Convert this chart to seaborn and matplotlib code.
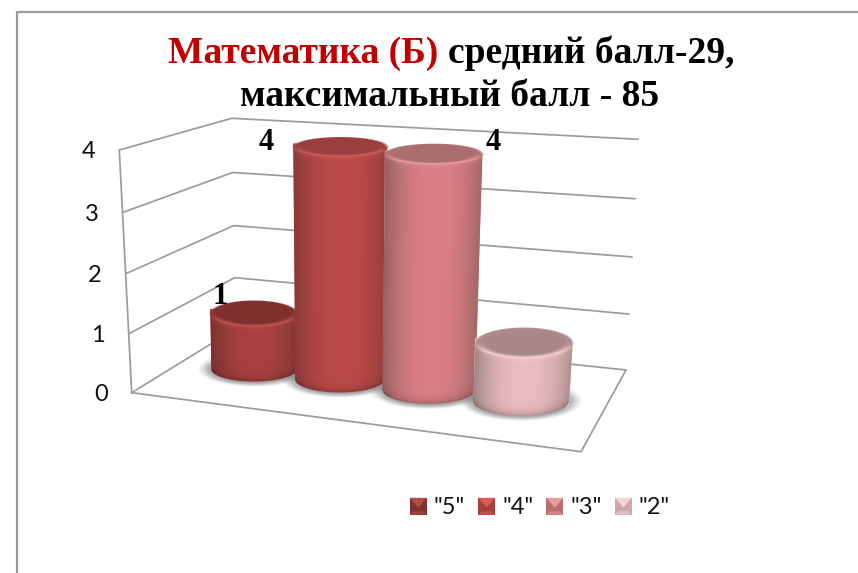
import numpy as np
import pandas as pd
import matplotlib
matplotlib.use("Agg")
import matplotlib.pyplot as plt
import seaborn as sns
from matplotlib.transforms import Transform
from matplotlib.patches import Patch, Polygon
from matplotlib.legend_handler import HandlerBase

# ---- data
grades = ['"5"', '"4"', '"3"', '"2"']
counts = [1, 4, 4, 1]
point_labels = ["1", "4", "4", None]
y_ticks = [0, 1, 2, 3, 4]
title_red = "Математика (Б)"
title_black = "средний балл-29,"
title_line2 = "максимальный балл - 85"

# ---- style
body_colors = ["#a8413f", "#bb4a47", "#d97f85", "#ebbcbf"]
edge_colors = ["#7a3130", "#8a3a39", "#96605f", "#a08484"]
top_colors = ["#7f2f2e", "#993f3e", "#ab6d70", "#a98788"]
rim_colors = ["#c05654", "#d0625e", "#ee9ea3", "#f6d2d4"]
legend_dark = ["#7d3231", "#a63e3c", "#b86d6f", "#cfa5a6"]
legend_light = ["#b54b49", "#dc5a56", "#ea9a9d", "#f3d3d4"]
label_offsets = [(-33, 17), (-73, 4), (60, 11), (0, 0)]
GRID = "#9c9c9c"

# ---- oblique-view geometry of the 3D box (figure pixels)
floor = np.array([[131.7, 392.7], [581, 451.7], [626, 370], [235.7, 328.7]])  # FL FR BR BL
roof = np.array([[119.3, 150], [595, 197], [638.3, 139.3], [231.7, 118.3]])
ZMAX = y_ticks[-1]


def bilin(c, u, v):
    return ((1 - u) * (1 - v))[..., None] * c[0] + (u * (1 - v))[..., None] * c[1] \
        + (u * v)[..., None] * c[2] + ((1 - u) * v)[..., None] * c[3]


def project(u, v, z):
    u, v, z = np.asarray(u, float), np.asarray(v, float), np.asarray(z, float)
    f = bilin(floor, u, v)
    r = bilin(roof, u, v)
    s = z / ZMAX
    s = s - 0.04 * s * (1 - s)  # slight vertical foreshortening
    return f + s[..., None] * (r - f)


def cat_to_u(x):
    x = np.asarray(x, float)
    return 0.1675 + 0.2 * x + 0.004 * x ** 2


class BarProjection(Transform):
    input_dims = 2
    output_dims = 2
    is_separable = False
    has_inverse = False

    def transform_non_affine(self, values):
        values = np.asarray(values, float)
        u = cat_to_u(values[:, 0])
        return project(u, np.full_like(u, 0.5), values[:, 1])


def ell_k(y):
    return 0.21 + 0.00055 * (y - 150)


def rgb(c):
    return np.array(matplotlib.colors.to_rgb(c))


def smooth(a, b, x):
    s = np.clip((x - a) / (b - a), 0, 1)
    return s * s * (3 - 2 * s)


sns.set_theme(style="white")
plt.rcParams["font.family"] = ["Lato", "DejaVu Sans"]

df = pd.DataFrame({"grade": grades, "count": counts})
fig = plt.figure(figsize=(8.58, 5.73), dpi=100, facecolor="white")
ax = fig.add_axes([0, 0, 1, 1])
sns.barplot(data=df, x="grade", y="count", hue="grade", order=grades, hue_order=grades,
            palette=body_colors, dodge=False, width=1.02, legend=False, ax=ax, linewidth=0)
ax.set_xlim(0, 858)
ax.set_ylim(573, 0)
ax.axis("off")
proj = BarProjection()

# frame of the slide picture
ax.plot([858, 16.5, 16.5], [12, 12, 573], color="#9a9a9a", lw=1.6, zorder=1, solid_joinstyle="miter")

# walls and floor
for z in y_ticks:
    p = project([0, 0, 1], [0, 1, 1], [z, z, z])
    ax.plot(p[:, 0], p[:, 1], color=GRID, lw=1.25, zorder=2)
    q = project(0.0, 0.0, z)
    ax.annotate(str(z), xy=q, xytext=(-31, -2), textcoords="offset pixels", ha="center",
                va="center", fontsize=17, color="#111111", zorder=3)
p = project([0, 0], [0, 0], [0, ZMAX])
ax.plot(p[:, 0], p[:, 1], color=GRID, lw=1.25, zorder=2)
p = project([0, 1, 1], [0, 0, 1], [0, 0, 0])
ax.plot(p[:, 0], p[:, 1], color=GRID, lw=1.25, zorder=2)

bars = sorted(ax.patches, key=lambda b: b.get_x())
geom = []
for i, bar in enumerate(bars):
    x0, x1 = bar.get_x(), bar.get_x() + bar.get_width()
    xm, h = (x0 + x1) / 2, bar.get_height()
    b = proj.transform_non_affine(np.array([[x0, 0], [xm, 0], [x1, 0], [x0, h], [xm, h], [x1, h]]))
    geom.append(dict(bx=b[1, 0], by=b[1, 1], rxb=(b[2, 0] - b[0, 0]) / 2,
                     tx=b[4, 0] + 1, ty=b[4, 1], rxt=(b[5, 0] - b[3, 0]) / 2, xm=xm, h=h))
    bar.set_transform(proj + ax.transData)
    bar.set_zorder(20 + 2 * i)
    bar.set_edgecolor("none")


def grid_for(x0, x1, y0, y1):
    xs = np.arange(int(x0), int(x1)) + 0.5
    ys = np.arange(int(y0), int(y1)) + 0.5
    X, Y = np.meshgrid(xs, ys)
    return X, Y, (int(x0), int(x1), int(y1), int(y0))


# soft shadows on the floor
for g in geom:
    ryb = 0.88 * g["rxb"] * ell_k(g["by"])
    X, Y, ext = grid_for(g["bx"] - g["rxb"] - 22, g["bx"] + g["rxb"] + 22, g["by"] - ryb - 12, g["by"] + ryb + 14)
    r = np.sqrt(((X - g["bx"]) / (g["rxb"] + 9)) ** 2 + ((Y - g["by"]) / (ryb + 4)) ** 2)
    a = 0.62 * (1 - smooth(0.78, 1.12, r))
    img = np.dstack([np.full_like(X, 0.42), np.full_like(X, 0.42), np.full_like(X, 0.42), a])
    ax.imshow(img, extent=ext, aspect="auto", zorder=10, interpolation="nearest")

# shaded cylinders drawn over each projected bar
for i, g in enumerate(geom):
    bx, by, tx, ty, rxb, rxt = g["bx"], g["by"], g["tx"], g["ty"], g["rxb"], g["rxt"]
    ryb, ryt = 0.88 * rxb * ell_k(by), rxt * ell_k(ty)
    X, Y, ext = grid_for(min(bx - rxb, tx - rxt) - 3, max(bx + rxb, tx + rxt) + 3, ty - ryt - 3, by + ryb + 3)
    f = np.clip((Y - ty) / (by - ty), 0, 1)
    cx = tx + (bx - tx) * f
    rx = rxt + (rxb - rxt) * f
    t = (X - cx) / rx
    a_side = np.clip(rx * (1 - np.abs(t)) + 0.5, 0, 1)
    yb = by + ryb * np.sqrt(np.clip(1 - t ** 2, 0, 1))
    a_bot = np.clip(yb - Y + 0.5, 0, 1)
    a_top = np.clip(Y - ty + 0.5, 0, 1)
    ab = a_side * a_bot * a_top
    w = np.clip(np.abs(t - 0.05) / 1.05, 0, 1) ** 2.4
    c_mid, c_edge, c_top, c_rim = rgb(body_colors[i]), rgb(edge_colors[i]), rgb(top_colors[i]), rgb(rim_colors[i])
    body = c_mid[None, None, :] * (1 - w)[..., None] + c_edge[None, None, :] * w[..., None]
    body = body * (1 - 0.22 * np.exp(-np.clip(yb - Y, 0, None) / 4))[..., None]
    ye = ty + ryt * np.sqrt(np.clip(1 - ((X - tx) / rxt) ** 2, 0, 1))
    glow = np.exp(-np.clip(Y - ye, 0, None) / 2.0) * (1 - w * 0.6)
    body = body * (1 - glow * 0.5)[..., None] + c_rim[None, None, :] * (glow * 0.5)[..., None]

    r = np.sqrt(((X - tx) / rxt) ** 2 + ((Y - ty) / ryt) ** 2)
    a_e = np.clip((1 - r) * ryt + 0.5, 0, 1)
    rim = smooth(0.74, 1.0, r)
    lower = smooth(-0.1, 0.7, (Y - ty) / ryt)
    mix = (rim * (0.1 + 0.9 * lower))[..., None]
    top = c_top[None, None, :] * (1 - mix) + c_rim[None, None, :] * mix
    alpha = a_e + (1 - a_e) * ab
    col = (a_e[..., None] * top + ((1 - a_e) * ab)[..., None] * body) / np.maximum(alpha, 1e-6)[..., None]
    ax.imshow(np.dstack([np.clip(col, 0, 1), alpha]), extent=ext, aspect="auto",
              zorder=21 + 2 * i, interpolation="nearest")
ax.set_xlim(0, 858)
ax.set_ylim(573, 0)

# value labels
for g, lab, off in zip(geom, point_labels, label_offsets):
    if lab is None:
        continue
    q = proj.transform_non_affine(np.array([[g["xm"], g["h"]]]))[0]
    ax.annotate(lab, xy=q, xytext=off, textcoords="offset pixels", ha="center", va="center",
                fontsize=22, fontweight="bold", family="Liberation Serif", color="black", zorder=40)

# title
TS = 27
BASE1, BASE2 = 63, 106
t1 = ax.text(168, BASE1, title_red, color="#c00000", fontsize=TS, fontweight="bold",
             family="Liberation Serif", va="baseline", ha="left", zorder=40)
fig.canvas.draw()
ext1 = t1.get_window_extent(fig.canvas.get_renderer())
ax.text(ext1.x1 + 0.25 * TS * 100 / 72, BASE1, title_black, color="black", fontsize=TS, fontweight="bold",
        family="Liberation Serif", va="baseline", ha="left", zorder=40)
ax.text(450, BASE2, title_line2, color="black", fontsize=TS, fontweight="bold",
        family="Liberation Serif", va="baseline", ha="center", zorder=40)


# legend with bevelled keys
class BevelKey(HandlerBase):
    def create_artists(self, legend, orig, xd, yd, width, height, fontsize, trans):
        dark = orig.get_edgecolor()
        light = orig.get_facecolor()
        s = min(width, height)
        x0, y0 = xd * -1, -yd
        base = Polygon([[x0, y0], [x0 + s, y0], [x0 + s, y0 + s], [x0, y0 + s]], closed=True,
                       facecolor=dark, edgecolor="none", transform=trans)
        tri = Polygon([[x0, y0 + s], [x0 + s, y0 + s], [x0 + s / 2, y0 + s * 0.42]], closed=True,
                      facecolor=light, edgecolor="none", transform=trans)
        low = Polygon([[x0, y0], [x0 + s, y0], [x0 + s * 0.8, y0 + s * 0.2], [x0 + s * 0.2, y0 + s * 0.2]],
                      closed=True, facecolor=light, edgecolor="none", alpha=0.6, transform=trans)
        return [base, low, tri]


handles = [Patch(facecolor=l, edgecolor=d, label=g) for l, d, g in zip(legend_light, legend_dark, grades)]
ax.legend(handles=handles, labels=grades, handler_map={Patch: BevelKey()}, ncol=4, frameon=False,
          loc="center", bbox_to_anchor=(540, 508), bbox_transform=ax.transData,
          fontsize=17, handlelength=0.72, handleheight=0.72, handletextpad=0.3, columnspacing=0.55,
          borderpad=0, labelcolor="#111111")

fig.savefig("out.png", dpi=100, facecolor="white")
